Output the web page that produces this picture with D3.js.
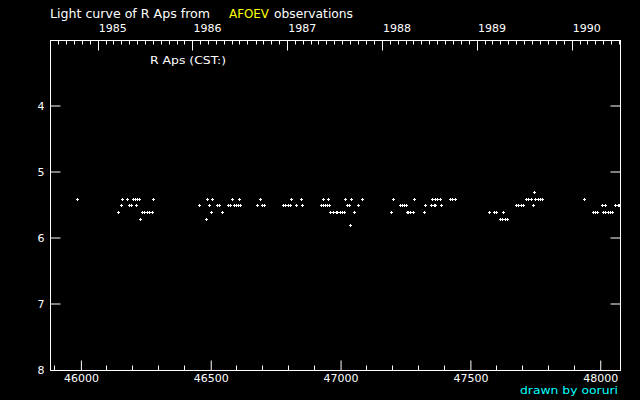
<!DOCTYPE html>
<html><head><meta charset="utf-8">
<script src="https://cdn.jsdelivr.net/npm/d3@7"></script>
<style>html,body{margin:0;padding:0;background:#000}svg{display:block}</style>
</head><body>
<svg id="chart" width="640" height="400"></svg>
<script>
// ---- data (JD - 2400000, visual magnitude) ----
const jdDomain = [45883, 48078];
const magDomain = [3, 8];
const magTicks = [4, 5, 6, 7];
const magLabels = [4, 5, 6, 7, 8];
const jdMajorTicks = [46000, 46500, 47000, 47500, 48000];
const jdMinorStep = 100;
const yearLabels = [1985, 1986, 1987, 1988, 1989, 1990];

const rowMags = [5.32, 5.42, 5.51, 5.62, 5.72, 5.82];
const rowJDs = [
  [47747],
  [45988, 46161, 46180, 46201, 46209, 46217, 46224, 46281, 46488, 46508, 46585, 46612,
   46692, 46812, 46848, 46935, 46954, 47019, 47043, 47085, 47204, 47285, 47354, 47365,
   47373, 47384, 47422, 47431, 47443, 47716, 47725, 47734, 47752, 47762, 47771, 47779, 47939],
  [46155, 46186, 46196, 46214, 46458, 46496, 46525, 46533, 46569, 46578, 46590, 46601,
   46608, 46615, 46682, 46699, 46709, 46781, 46789, 46798, 46806, 46829, 46854, 46926,
   46934, 46941, 46949, 46958, 47025, 47034, 47069, 47230, 47239, 47247, 47255, 47328,
   47351, 47360, 47367, 47389, 47676, 47685, 47695, 47704, 47743, 48009, 48020, 48060,
   48071, 48075],
  [46146, 46236, 46246, 46256, 46265, 46274, 46504, 46546, 46963, 46973, 46983, 46990,
   46999, 47008, 47016, 47054, 47195, 47256, 47263, 47271, 47279, 47323, 47574, 47593,
   47601, 47629, 47973, 47982, 47991, 48014, 48022, 48032, 48041, 48049],
  [46230, 46485, 47616, 47625, 47637, 47643],
  [47039]
];

const points = [];
rowJDs.forEach((arr, i) => arr.forEach(jd => points.push({jd, mag: rowMags[i]})));

// ---- layout ----
const svg = d3.select('#chart');
svg.append('rect').attr('width', 640).attr('height', 400).attr('fill', '#000');

const L = 50.5, R = 620.5, T = 40.5, B = 370.5;
const x = d3.scaleLinear().domain(jdDomain).range([L, R]);
const y = d3.scaleLinear().domain(magDomain).range([T - 1, B - 1]);
const FONT = 'DejaVu Sans, Liberation Sans, sans-serif';

// JD <-> date
const jdToDate = v => new Date((v - 40587.5) * 864e5);
const dateToJd = d => d.getTime() / 864e5 + 40587.5;

// frame
svg.append('rect').attr('x', L).attr('y', T).attr('width', R - L).attr('height', B - T)
  .attr('fill', 'none').attr('stroke', '#fff').attr('stroke-width', 1);

// bottom axis (inward ticks)
const gB = svg.append('g').attr('transform', `translate(0,${B})`);
const bottomAxis = d3.axisBottom(x).tickValues(jdMajorTicks).tickSize(-10).tickPadding(4)
  .tickFormat(d3.format('d'));
gB.call(bottomAxis);
const minorJD = d3.range(45900, jdDomain[1], jdMinorStep).filter(v => !jdMajorTicks.includes(v));
gB.selectAll('line.minor').data(minorJD).join('line').attr('class', 'minor')
  .attr('x1', d => Math.round(x(d) - 0.5) + 0.5).attr('x2', d => Math.round(x(d) - 0.5) + 0.5)
  .attr('y1', 0).attr('y2', -5).attr('stroke', '#fff');

// left axis
const gL = svg.append('g').attr('transform', `translate(${L},0)`);
gL.call(d3.axisLeft(y).tickValues(magLabels).tickSize(-10).tickPadding(6).tickFormat(d3.format('d')));
gL.selectAll('.tick').filter(d => d === 8).select('line').remove();

// right axis (ticks only)
const gR = svg.append('g').attr('transform', `translate(${R},0)`);
gR.call(d3.axisRight(y).tickValues(magTicks).tickSize(-10).tickFormat(''));

// top axis: years and months
const t0 = jdToDate(jdDomain[0]), t1 = jdToDate(jdDomain[1]);
const months = d3.utcMonth.range(d3.utcMonth.ceil(t0), t1).map(dateToJd);
const yearStarts = yearLabels.map(yr => dateToJd(new Date(Date.UTC(yr, 0, 1))));
const gT = svg.append('g');
gT.selectAll('line.m').data(months).join('line').attr('class', 'm')
  .attr('x1', d => Math.round(x(d) - 0.5) + 0.5).attr('x2', d => Math.round(x(d) - 0.5) + 0.5)
  .attr('y1', T).attr('y2', d => yearStarts.some(s => Math.abs(s - d) < 1) ? T + 10 : T + 4)
  .attr('stroke', '#fff');
gT.selectAll('text.yr').data(yearLabels).join('text').attr('class', 'yr')
  .attr('x', (d, i) => x(yearStarts[i]) + 0.5).attr('y', 32)
  .attr('fill', '#fff').attr('font-family', FONT).attr('font-size', 11)
  .text(d => d);

// style axes
svg.selectAll('.domain').remove();
svg.selectAll('.tick line').attr('stroke', '#fff');
svg.selectAll('.tick text').attr('fill', '#fff').attr('font-family', FONT).attr('font-size', 11);

// data points: small 3x3 plus markers
const gP = svg.append('g').attr('fill', '#fff');
points.forEach(p => {
  const cx = Math.floor(x(p.jd)), cy = Math.floor(y(p.mag));
  if (cx > R + 1) return;
  gP.append('rect').attr('x', cx - 1).attr('y', cy).attr('width', 3).attr('height', 1);
  gP.append('rect').attr('x', cx).attr('y', cy - 1).attr('width', 1).attr('height', 3);
});

// texts
const txt = (s, xx, yy, col, size, len) => {
  const t = svg.append('text').attr('x', xx).attr('y', yy).attr('fill', col)
    .attr('font-family', FONT).attr('font-size', size).text(s);
  if (len) t.attr('textLength', len).attr('lengthAdjust', 'spacingAndGlyphs');
  return t;
};
txt('Light curve of R Aps from', 50, 18, '#fff', 12, 160);
txt('AFOEV', 229, 18, '#ffff00', 12, 40);
txt('observations', 274, 18, '#fff', 12, 79);
txt('R Aps (CST:)', 150, 64, '#fff', 11, 76);
txt('drawn by ooruri', 520, 394, '#00ffff', 11, 98);
</script>
</body></html>
